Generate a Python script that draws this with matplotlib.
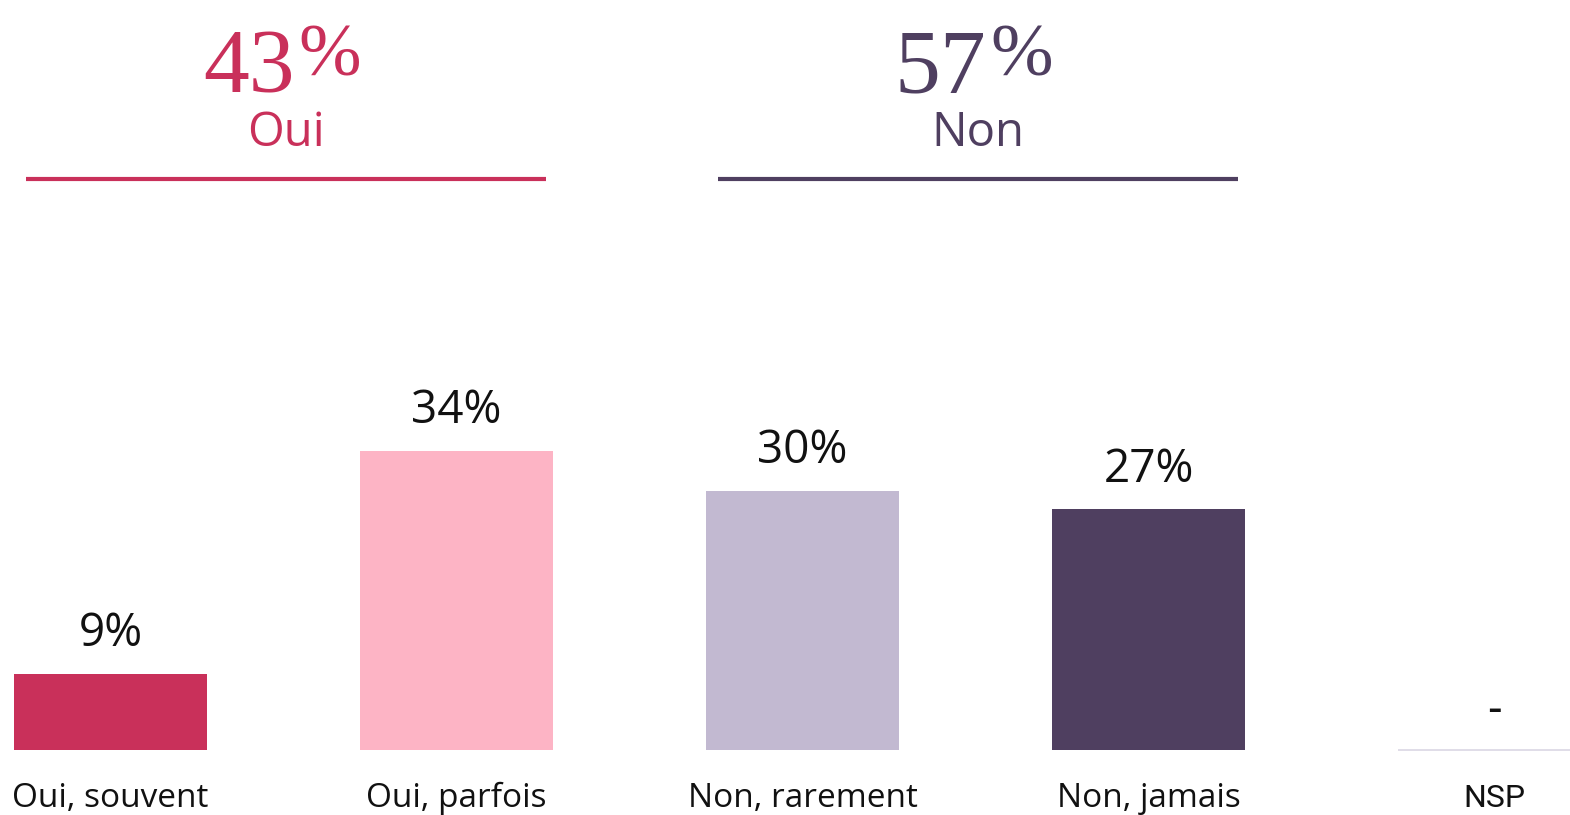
import matplotlib.pyplot as plt

# données
categories = ["Oui, souvent", "Oui, parfois", "Non, rarement", "Non, jamais", "NSP"]
values = [8.7, 34.2, 29.6, 27.5, 0]
value_labels = ["9%", "34%", "30%", "27%", "-"]
colors = ["#C9305A", "#FDB4C5", "#C2B9D1", "#4F3F60", "#FFFFFF"]

groups = ["Oui", "Non"]
group_totals = ["43", "57"]
group_members = [[0, 1], [2, 3]]
group_colors = ["#C9305A", "#4F3F60"]

font_main = "Open Sans"
font_serif = "Liberation Serif"

fig = plt.figure(figsize=(15.7, 8.15), dpi=100)
ax = fig.add_axes([0, 0, 1, 1])

x = list(range(len(categories)))
width = 0.558
ax.bar(x, values, width=width, color=colors, linewidth=0)

# NSP : simple trait à la base
ax.bar([4], [0], width=width, color="none", edgecolor="#E0DDE8", linewidth=1.2)

for i, (v, lab) in enumerate(zip(values, value_labels)):
    fam = "Roboto" if categories[i] == "NSP" else font_main
    ax.annotate(lab, (x[i], v), xytext=(0, 20 if v else 19), textcoords="offset points",
                ha="center", va="baseline", fontsize=33, family=fam, color="#111111")
    ax.text(x[i], -6.57, categories[i], ha="center", va="baseline",
            fontsize=(23 if categories[i] == "NSP" else 24), family=fam, color="#111111")

# en-têtes Oui / Non
for g, tot, members, col in zip(groups, group_totals, group_members, group_colors):
    left = min(members) - width / 2 + 0.035
    right = max(members) + width / 2 - 0.02
    mid = (left + right) / 2
    ax.plot([left, right], [65.26, 65.26], color=col, linewidth=3, solid_capstyle="butt")
    ax.text(mid, 69.0, g, ha="center", va="baseline", fontsize=34, family=font_main, color=col)
    ax.annotate(tot, (mid, 75.2), xytext=(6, 0), textcoords="offset points",
                ha="right", va="baseline", fontsize=66, family=font_serif, color=col)
    ax.annotate("%", (mid, 75.2), xytext=(9, 12), textcoords="offset points",
                ha="left", va="baseline", fontsize=54, family=font_serif, color=col)

ax.set_xlim(-110.5 / 346, (1570 - 110.5) / 346)
ax.set_ylim(-65 / 8.75, 750 / 8.75)
ax.axis("off")

fig.savefig("out.png", dpi=100)
